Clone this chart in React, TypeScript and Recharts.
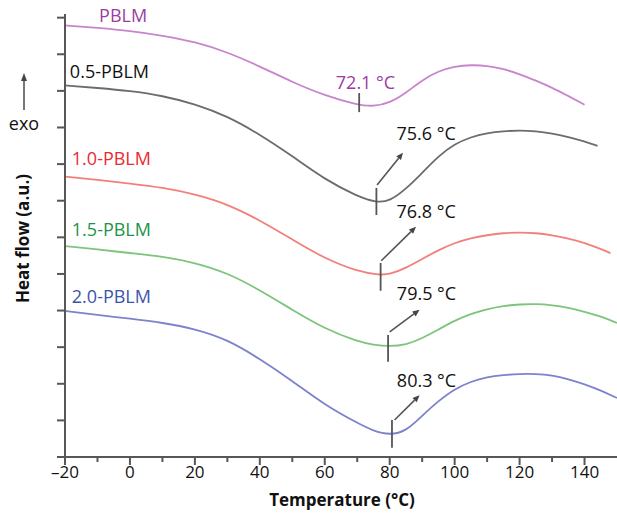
import React from 'react';
import { LineChart, Line, XAxis, YAxis, ReferenceLine, ReferenceDot } from 'recharts';

const FONT = '"Open Sans", "Noto Sans", sans-serif';

const seriesNames = ['PBLM', '0.5-PBLM', '1.0-PBLM', '1.5-PBLM', '2.0-PBLM'];
const lineColors = ['#c884cd', '#6c6c6c', '#f27f7a', '#7dc47d', '#7d82cc'];
const labelColors = ['#9b3da1', '#111111', '#ea2a33', '#23934a', '#3b55ab'];

const pblmT = [-20, -10, 0, 10, 20, 30, 40, 50, 60, 70, 75, 80, 85, 90, 95, 100, 105, 110, 115, 120, 125, 130, 135, 140];
const pblmV = [11.79, 11.72, 11.64, 11.51, 11.34, 11.06, 10.67, 10.24, 9.87, 9.62, 9.57, 9.67, 9.94, 10.3, 10.54, 10.67, 10.71, 10.69, 10.6, 10.46, 10.28, 10.09, 9.86, 9.62];

const pblm05T = [-20, -10, 0, 10, 20, 30, 40, 50, 60, 70, 76, 80, 85, 90, 95, 100, 105, 110, 115, 120, 125, 130, 135, 140, 144];
const pblm05V = [10.15, 10.08, 10.0, 9.87, 9.64, 9.31, 8.81, 8.22, 7.58, 7.12, 6.95, 6.99, 7.32, 7.76, 8.22, 8.55, 8.74, 8.85, 8.9, 8.92, 8.9, 8.84, 8.74, 8.62, 8.5];

const pblm10T = [-20, -10, 0, 10, 20, 30, 40, 50, 60, 70, 77, 80, 85, 90, 95, 100, 105, 110, 115, 120, 125, 130, 135, 140, 145, 148];
const pblm10V = [7.66, 7.57, 7.47, 7.36, 7.18, 6.91, 6.47, 5.94, 5.42, 5.07, 4.97, 4.99, 5.16, 5.41, 5.65, 5.85, 5.98, 6.06, 6.12, 6.13, 6.12, 6.06, 5.97, 5.85, 5.68, 5.57];

const pblm15T = [-20, -10, 0, 10, 20, 30, 40, 50, 60, 70, 75, 80, 85, 90, 95, 100, 105, 110, 115, 120, 125, 130, 135, 140, 145, 150];
const pblm15V = [5.76, 5.67, 5.57, 5.48, 5.31, 5.03, 4.56, 4.02, 3.5, 3.16, 3.06, 3.02, 3.06, 3.24, 3.48, 3.73, 3.91, 4.04, 4.13, 4.17, 4.18, 4.15, 4.08, 3.97, 3.84, 3.66];

const pblm20T = [-20, -10, 0, 10, 20, 30, 40, 50, 60, 70, 75, 80, 85, 90, 95, 100, 105, 110, 115, 120, 125, 130, 135, 140, 145, 150];
const pblm20V = [3.99, 3.88, 3.78, 3.67, 3.5, 3.21, 2.68, 2.08, 1.42, 0.93, 0.71, 0.6, 0.7, 1.13, 1.53, 1.86, 2.06, 2.19, 2.24, 2.27, 2.27, 2.23, 2.13, 1.99, 1.82, 1.61];

const seriesT = [pblmT, pblm05T, pblm10T, pblm15T, pblm20T];
const seriesV = [pblmV, pblm05V, pblm10V, pblm15V, pblm20V];

const nameLabelT = [-9.5, -18.5, -17.9, -17.9, -17.9];
const nameLabelV = [12.06, 10.55, 8.18, 6.23, 4.41];

const peakText = ['72.1 °C', '75.6 °C', '76.8 °C', '79.5 °C', '80.3 °C'];
const peakLabelColors = ['#9b3da1', '#111111', '#111111', '#111111', '#111111'];
const peakLabelT = [63.4, 82.1, 82.1, 82.2, 82.2];
const peakLabelV = [10.24, 8.86, 6.73, 4.48, 2.1];

const markerT = [70.6, 75.9, 77.2, 79.5, 80.7];
const markerTop = [9.94, 7.35, 5.3, 3.33, 1.01];
const markerBottom = [9.42, 6.61, 4.54, 2.6, 0.25];

const arrowFromT = [76.1, 77.4, 80.0, 81.5];
const arrowFromV = [7.43, 5.36, 3.42, 1.01];
const arrowToT = [84.1, 88.1, 89.2, 89.2];
const arrowToV = [8.31, 6.29, 4.02, 1.69];

const xTicks = [-20, -10, 0, 10, 20, 30, 40, 50, 60, 70, 80, 90, 100, 110, 120, 130, 140];
const xLabelTicks = [-20, 0, 20, 40, 60, 80, 100, 120, 140];
const yTicks = [0, 1, 2, 3, 4, 5, 6, 7, 8, 9, 10, 11, 12];

const AXIS = '#575757';

const buildData = (ts: number[], vs: number[]) => ts.map((t, i) => ({ t, v: vs[i] }));

const XTick = (props: any) => {
  const { x, y, payload } = props;
  const val = payload.value;
  const major = xLabelTicks.includes(val);
  return (
    <g>
      <line x1={x} x2={x} y1={y} y2={y + (major ? 8 : 5)} stroke={AXIS} strokeWidth={2} />
      {major && (
        <text x={x} y={y + 14} textAnchor="middle" dominantBaseline="central" fontFamily={FONT} fontSize={17} fill="#111">
          {val < 0 ? '\u2013' + Math.abs(val) : String(val)}
        </text>
      )}
    </g>
  );
};

const YTick = (props: any) => {
  const { x, y } = props;
  return <line x1={x - 8} x2={x} y1={y} y2={y} stroke={AXIS} strokeWidth={2} />;
};

const arrowShape = (p: any) => {
  const { x1, y1, x2, y2 } = p;
  const dx = x2 - x1;
  const dy = y2 - y1;
  const len = Math.sqrt(dx * dx + dy * dy) || 1;
  const ux = dx / len;
  const uy = dy / len;
  const hl = 7;
  const hw = 3;
  const bx = x2 - ux * hl;
  const by = y2 - uy * hl;
  const pts = `${x2},${y2} ${bx - uy * hw},${by + ux * hw} ${bx + uy * hw},${by - ux * hw}`;
  return (
    <g>
      <line x1={x1} y1={y1} x2={bx} y2={by} stroke="#555" strokeWidth={1.6} />
      <polygon points={pts} fill="#444" />
    </g>
  );
};

const markerShape = (p: any) => (
  <line x1={p.x1} y1={p.y1} x2={p.x2} y2={p.y2} stroke="#555" strokeWidth={1.8} />
);

const textShape = (text: string, color: string) => (p: any) => (
  <text x={p.cx} y={p.cy} dominantBaseline="central" fontFamily={FONT} fontSize={18} fill={color}>
    {text}
  </text>
);

const YTitle = (props: any) => {
  const vb = props.viewBox || { x: 0, y: 14, width: 65, height: 443 };
  const cx = 22.5;
  const cy = vb.y + vb.height / 2 + 3;
  return (
    <g>
      <text
        x={cx}
        y={cy}
        transform={`rotate(-90 ${cx} ${cy})`}
        textAnchor="middle"
        dominantBaseline="central"
        fontFamily={FONT}
        fontWeight="bold"
        fontSize={17}
        fill="#111"
      >
        Heat flow (a.u.)
      </text>
      <line x1={24} y1={110} x2={24} y2={80} stroke="#555" strokeWidth={1.6} />
      <polygon points="24,73 21,81 27,81" fill="#444" />
      <text x={24} y={123} textAnchor="middle" dominantBaseline="central" fontFamily={FONT} fontSize={18} fill="#111">
        exo
      </text>
    </g>
  );
};

const XTitle = (props: any) => {
  const vb = props.viewBox || { x: 65, y: 457, width: 552, height: 57 };
  return (
    <text x={vb.x + vb.width / 2 + 1} y={499} textAnchor="middle" dominantBaseline="central" fontFamily={FONT} fontWeight="bold" fontSize={17} fill="#111">
      Temperature (°C)
    </text>
  );
};

export default function App() {
  return (
    <div style={{ position: 'absolute', left: 0, top: 0, width: 617, height: 514, background: '#fff' }}>
      <LineChart width={617} height={514} margin={{ top: 14, right: 0, bottom: 0, left: 0 }}>
        <XAxis
          type="number"
          dataKey="t"
          domain={[-20, 150]}
          ticks={xTicks}
          allowDataOverflow
          height={57}
          stroke={AXIS}
          strokeWidth={2}
          tickLine={false}
          tickSize={0}
          tickMargin={0}
          tick={<XTick />}
          interval={0}
          label={<XTitle />}
        />
        <YAxis
          type="number"
          domain={[0, 12.1]}
          ticks={yTicks}
          allowDataOverflow
          width={65}
          stroke={AXIS}
          strokeWidth={2}
          tickLine={false}
          tickSize={0}
          tickMargin={0}
          tick={<YTick />}
          interval={0}
          label={<YTitle />}
        />
        {seriesNames.map((name, i) => (
          <Line
            key={name}
            name={name}
            data={buildData(seriesT[i], seriesV[i])}
            dataKey="v"
            type="basis"
            stroke={lineColors[i]}
            strokeWidth={1.8}
            dot={false}
            activeDot={false}
            isAnimationActive={false}
          />
        ))}
        {markerT.map((t, i) => (
          <ReferenceLine
            key={'m' + i}
            segment={[{ x: t, y: markerTop[i] }, { x: t, y: markerBottom[i] }]}
            ifOverflow="visible"
            shape={markerShape}
          />
        ))}
        {arrowFromT.map((t, i) => (
          <ReferenceLine
            key={'a' + i}
            segment={[{ x: t, y: arrowFromV[i] }, { x: arrowToT[i], y: arrowToV[i] }]}
            ifOverflow="visible"
            shape={arrowShape}
          />
        ))}
        {seriesNames.map((name, i) => (
          <ReferenceDot
            key={'n' + i}
            x={nameLabelT[i]}
            y={nameLabelV[i]}
            r={1}
            ifOverflow="visible"
            shape={textShape(name, labelColors[i])}
          />
        ))}
        {peakText.map((txt, i) => (
          <ReferenceDot
            key={'p' + i}
            x={peakLabelT[i]}
            y={peakLabelV[i]}
            r={1}
            ifOverflow="visible"
            shape={textShape(txt, peakLabelColors[i])}
          />
        ))}
      </LineChart>
    </div>
  );
}
